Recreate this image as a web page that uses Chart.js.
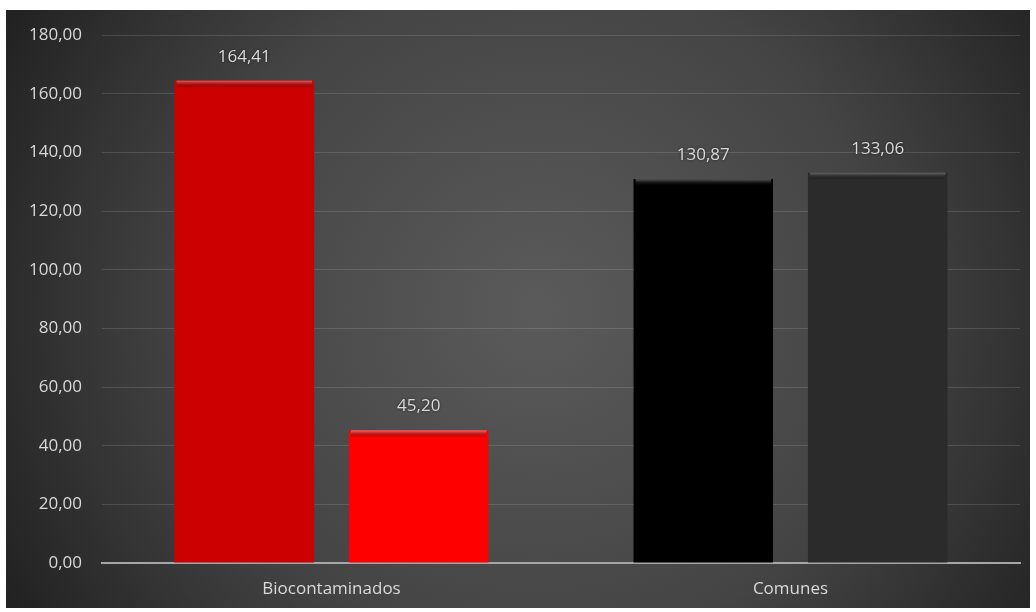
<!DOCTYPE html>
<html>
<head>
<meta charset="utf-8">
<script src="https://cdn.jsdelivr.net/npm/chart.js@4/dist/chart.umd.min.js"></script>
<style>
  html, body { margin: 0; padding: 0; background: #ffffff; }
  #wrap { position: absolute; left: 6px; top: 10px; width: 1024px; height: 598px; }
</style>
</head>
<body>
<div id="wrap"><canvas id="c" width="1024" height="598"></canvas></div>
<script>
const categories = ['Biocontaminados', 'Comunes'];
const seriesA = [164.41, 130.87];
const seriesB = [45.20, 133.06];
const colorsA = ['#cc0000', '#000000'];
const colorsB = ['#ff0000', '#2b2b2b'];
const highlightA = ['#ff5a5a', '#5a5a5a'];
const highlightB = ['#ff7070', '#6a6a6a'];
const yTicks = [0, 20, 40, 60, 80, 100, 120, 140, 160, 180];

const fmt = v => v.toFixed(2).replace('.', ',');

const bgPlugin = {
  id: 'bg',
  beforeDraw(chart) {
    const ctx = chart.ctx, w = chart.width, h = chart.height;
    ctx.save();
    const g = ctx.createRadialGradient(w * 0.52, h * 0.5, 10, w * 0.52, h * 0.5, 620);
    g.addColorStop(0, '#5a5a5a');
    g.addColorStop(0.55, '#444444');
    g.addColorStop(1, '#202020');
    ctx.fillStyle = g;
    ctx.fillRect(0, 0, w, h);
    ctx.restore();
  }
};

const barDeco = {
  id: 'barDeco',
  afterDatasetsDraw(chart) {
    const ctx = chart.ctx;
    ctx.save();
    chart.data.datasets.forEach((ds, di) => {
      const meta = chart.getDatasetMeta(di);
      meta.data.forEach((bar, i) => {
        const p = bar.getProps(['x', 'y', 'base', 'width'], true);
        const left = p.x - p.width / 2;
        const hl = ds.highlight[i];
        const g = ctx.createLinearGradient(0, p.y, 0, p.y + 7);
        g.addColorStop(0, hl);
        g.addColorStop(1, 'rgba(0,0,0,0)');
        ctx.fillStyle = g;
        ctx.fillRect(left + 2, p.y, p.width - 4, 7);
        ctx.font = '17px "Open Sans", sans-serif';
        ctx.fillStyle = '#d9d9d9';
        ctx.textAlign = 'center';
        ctx.textBaseline = 'middle';
        ctx.shadowColor = 'rgba(0,0,0,0.6)';
        ctx.shadowBlur = 3;
        ctx.fillText(fmt(ds.data[i]), p.x, p.y - 24);
        ctx.shadowBlur = 0;
      });
    });
    ctx.restore();
  }
};

new Chart(document.getElementById('c'), {
  type: 'bar',
  data: {
    labels: categories,
    datasets: [
      { data: seriesA, backgroundColor: colorsA, highlight: highlightA, borderWidth: 0, barPercentage: 0.8, categoryPercentage: 0.76 },
      { data: seriesB, backgroundColor: colorsB, highlight: highlightB, borderWidth: 0, barPercentage: 0.8, categoryPercentage: 0.76 }
    ]
  },
  options: {
    responsive: false,
    animation: false,
    layout: { padding: { top: 25, right: 10, left: 0, bottom: 0 } },
    plugins: { legend: { display: false }, tooltip: { enabled: false } },
    scales: {
      x: {
        grid: { display: false, drawTicks: false },
        border: { display: true, color: '#a6a6a6', width: 2 },
        ticks: { color: '#d9d9d9', font: { family: 'Open Sans', size: 17 }, padding: 16 },
        afterFit(s) { s.height = 45; s.paddingLeft = 0; s.paddingRight = 0; }
      },
      y: {
        min: 0, max: 180,
        afterBuildTicks(s) { s.ticks = yTicks.map(v => ({ value: v })); },
        grid: { color: 'rgba(255,255,255,0.13)', lineWidth: 1, drawTicks: false },
        border: { display: false },
        ticks: { color: '#d9d9d9', font: { family: 'Open Sans', size: 17 }, padding: 20, callback: v => fmt(v) },
        afterFit(s) { s.width = 96; s.paddingTop = 0; s.paddingBottom = 0; }
      }
    }
  },
  plugins: [bgPlugin, barDeco]
});
</script>
</body>
</html>
